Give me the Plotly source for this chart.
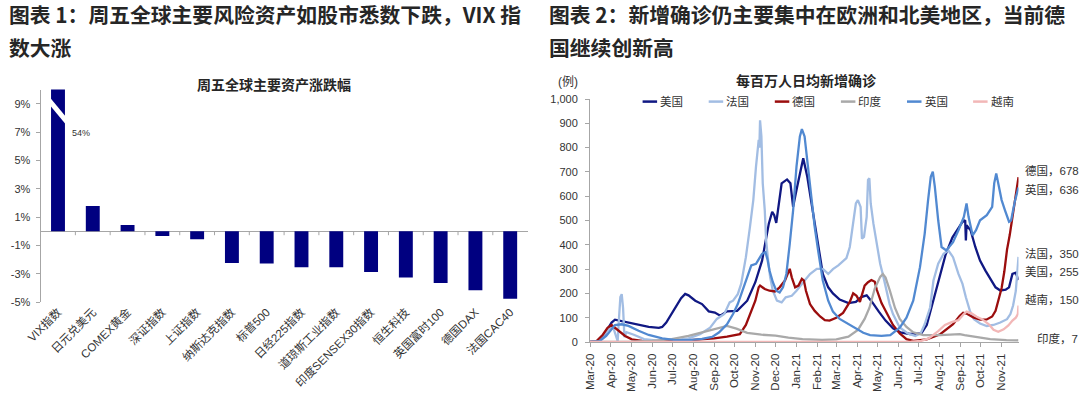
import plotly.graph_objects as go

W, H = 1080, 396

# ---------------- Left chart data ----------------
assets = ["VIX指数", "日元兑美元", "COMEX黄金", "深证指数", "上证指数", "纳斯达克指数", "标普500",
          "日经225指数", "道琼斯工业指数", "印度SENSEX30指数", "恒生科技", "英国富时100", "德国DAX", "法国CAC40"]
changes = [54.0, 1.78, 0.45, -0.33, -0.56, -2.23, -2.27, -2.53, -2.53, -2.87, -3.26, -3.64, -4.15, -4.75]
pct_ticks = [-5, -3, -1, 1, 3, 5, 7, 9]
pct_range = [-5, 10]

# ---------------- Right chart data (per-million daily new cases) ----------------
us = [("2020-03-01", 0), ("2020-03-12", 2), ("2020-03-20", 20), ("2020-03-27", 55), ("2020-04-02", 80),
      ("2020-04-07", 92), ("2020-04-14", 88), ("2020-04-22", 84), ("2020-05-01", 78), ("2020-05-12", 70),
      ("2020-05-27", 62), ("2020-06-11", 58), ("2020-06-16", 62), ("2020-06-22", 80), ("2020-06-28", 108),
      ("2020-07-08", 156), ("2020-07-14", 180), ("2020-07-20", 198), ("2020-07-25", 192), ("2020-08-04", 170),
      ("2020-08-14", 156), ("2020-08-24", 126), ("2020-09-02", 121), ("2020-09-10", 108), ("2020-09-20", 126),
      ("2020-10-05", 128), ("2020-10-20", 170), ("2020-11-01", 246), ("2020-11-11", 335), ("2020-11-21", 487),
      ("2020-11-26", 536), ("2020-11-29", 522), ("2020-12-02", 490), ("2020-12-10", 653), ("2020-12-18", 669),
      ("2020-12-23", 653), ("2020-12-27", 556), ("2021-01-02", 639), ("2021-01-11", 756), ("2021-01-17", 680),
      ("2021-01-26", 529), ("2021-02-02", 404), ("2021-02-09", 280), ("2021-02-17", 225), ("2021-02-24", 200),
      ("2021-03-06", 175), ("2021-03-19", 160), ("2021-03-30", 165), ("2021-04-07", 185), ("2021-04-15", 192),
      ("2021-04-23", 165), ("2021-05-03", 125), ("2021-05-13", 88), ("2021-05-24", 56), ("2021-06-04", 40),
      ("2021-06-18", 33), ("2021-06-28", 33), ("2021-07-05", 35), ("2021-07-13", 70), ("2021-07-26", 205),
      ("2021-08-10", 360), ("2021-08-20", 430), ("2021-08-28", 466), ("2021-09-04", 494), ("2021-09-08", 501),
      ("2021-09-09", 418), ("2021-09-10", 480), ("2021-09-16", 460), ("2021-09-23", 391), ("2021-09-30", 335),
      ("2021-10-08", 294), ("2021-10-15", 259), ("2021-10-23", 225), ("2021-10-30", 212), ("2021-11-07", 215),
      ("2021-11-12", 225), ("2021-11-17", 280), ("2021-11-22", 285), ("2021-11-24", 270), ("2021-11-26", 255)]

france = [("2020-03-01", 0), ("2020-03-12", 4), ("2020-03-22", 30), ("2020-03-31", 60), ("2020-04-05", 55),
          ("2020-04-09", 20), ("2020-04-11", 3), ("2020-04-13", 100), ("2020-04-15", 185), ("2020-04-17", 197),
          ("2020-04-19", 140), ("2020-04-21", 20), ("2020-04-24", 40), ("2020-05-05", 30), ("2020-05-20", 12),
          ("2020-06-10", 6), ("2020-07-05", 8), ("2020-07-25", 15), ("2020-08-11", 32), ("2020-08-26", 59),
          ("2020-09-05", 95), ("2020-09-16", 115), ("2020-09-24", 163), ("2020-09-29", 170), ("2020-10-06", 197),
          ("2020-10-11", 239), ("2020-10-18", 349), ("2020-10-24", 473), ("2020-10-29", 584), ("2020-11-02", 722),
          ("2020-11-04", 791), ("2020-11-06", 832), ("2020-11-07", 800), ("2020-11-08", 912), ("2020-11-10", 846),
          ("2020-11-12", 653), ("2020-11-15", 542), ("2020-11-17", 418), ("2020-11-20", 335), ("2020-11-23", 266),
          ("2020-11-27", 211), ("2020-12-03", 170), ("2020-12-10", 163), ("2020-12-16", 184), ("2020-12-25", 190),
          ("2021-01-01", 211), ("2021-01-11", 246), ("2021-01-21", 280), ("2021-01-31", 301), ("2021-02-09", 301),
          ("2021-02-17", 280), ("2021-02-24", 300), ("2021-03-04", 315), ("2021-03-16", 345), ("2021-03-21", 391),
          ("2021-03-26", 501), ("2021-03-30", 570), ("2021-04-02", 584), ("2021-04-06", 556), ("2021-04-08", 425),
          ("2021-04-11", 432), ("2021-04-15", 515), ("2021-04-17", 667), ("2021-04-19", 674), ("2021-04-21", 570),
          ("2021-04-25", 487), ("2021-04-30", 404), ("2021-05-05", 322), ("2021-05-10", 266), ("2021-05-15", 211),
          ("2021-05-19", 156), ("2021-05-24", 115), ("2021-05-29", 87), ("2021-06-03", 60), ("2021-06-15", 35),
          ("2021-06-26", 25), ("2021-07-04", 35), ("2021-07-10", 73), ("2021-07-18", 142), ("2021-07-23", 253),
          ("2021-07-30", 322), ("2021-08-07", 363), ("2021-08-14", 377), ("2021-08-21", 349), ("2021-08-29", 280),
          ("2021-09-04", 239), ("2021-09-09", 184), ("2021-09-15", 128), ("2021-09-21", 94), ("2021-09-30", 76),
          ("2021-10-10", 66), ("2021-10-20", 70), ("2021-10-30", 80), ("2021-11-09", 94), ("2021-11-14", 115),
          ("2021-11-18", 150), ("2021-11-22", 210), ("2021-11-24", 300), ("2021-11-26", 350)]

germany = [("2020-03-01", 0), ("2020-03-10", 2), ("2020-03-20", 30), ("2020-03-27", 58), ("2020-04-02", 70),
           ("2020-04-12", 46), ("2020-04-22", 25), ("2020-05-02", 11), ("2020-05-17", 5), ("2020-06-15", 4),
           ("2020-07-15", 5), ("2020-08-11", 11), ("2020-09-01", 15), ("2020-09-20", 22), ("2020-10-09", 32),
           ("2020-10-18", 70), ("2020-10-24", 115), ("2020-11-01", 170), ("2020-11-06", 225), ("2020-11-08", 232),
           ("2020-11-15", 218), ("2020-11-22", 211), ("2020-11-30", 208), ("2020-12-07", 225), ("2020-12-15", 253),
           ("2020-12-20", 287), ("2020-12-22", 301), ("2020-12-25", 266), ("2020-12-30", 225), ("2021-01-04", 232),
           ("2021-01-09", 260), ("2021-01-12", 253), ("2021-01-15", 211), ("2021-01-21", 156), ("2021-01-28", 128),
           ("2021-02-05", 105), ("2021-02-12", 90), ("2021-02-19", 88), ("2021-03-01", 100), ("2021-03-11", 120),
           ("2021-03-21", 165), ("2021-03-26", 200), ("2021-03-31", 190), ("2021-04-05", 165), ("2021-04-12", 232),
           ("2021-04-17", 246), ("2021-04-22", 255), ("2021-04-27", 248), ("2021-04-30", 215), ("2021-05-07", 160),
           ("2021-05-15", 120), ("2021-05-24", 70), ("2021-06-03", 35), ("2021-06-13", 12), ("2021-06-23", 5),
           ("2021-07-13", 11), ("2021-08-02", 32), ("2021-08-21", 73), ("2021-08-31", 108), ("2021-09-05", 120),
           ("2021-09-10", 117), ("2021-09-20", 101), ("2021-09-30", 92), ("2021-10-10", 93), ("2021-10-18", 105),
           ("2021-10-23", 128), ("2021-10-28", 180), ("2021-11-01", 222), ("2021-11-05", 290), ("2021-11-09", 380),
           ("2021-11-13", 440), ("2021-11-17", 510), ("2021-11-21", 590), ("2021-11-24", 640), ("2021-11-26", 678)]

india = [("2020-03-01", 0), ("2020-05-01", 1), ("2020-06-01", 5), ("2020-06-30", 12), ("2020-07-25", 25),
         ("2020-08-14", 40), ("2020-08-31", 52), ("2020-09-14", 63), ("2020-09-20", 66), ("2020-10-04", 55),
         ("2020-10-20", 38), ("2020-11-10", 30), ("2020-12-01", 26), ("2020-12-20", 18), ("2021-01-10", 12),
         ("2021-02-08", 9), ("2021-03-01", 11), ("2021-03-19", 22), ("2021-04-02", 50), ("2021-04-12", 95),
         ("2021-04-19", 140), ("2021-04-27", 220), ("2021-05-05", 268), ("2021-05-09", 280), ("2021-05-13", 265),
         ("2021-05-19", 215), ("2021-05-27", 140), ("2021-06-03", 95), ("2021-06-13", 62), ("2021-06-23", 40),
         ("2021-07-08", 28), ("2021-08-02", 28), ("2021-08-31", 32), ("2021-09-07", 28), ("2021-09-20", 22),
         ("2021-10-15", 12), ("2021-11-08", 8), ("2021-11-26", 7)]

uk = [("2020-03-01", 0), ("2020-03-15", 3), ("2020-03-25", 25), ("2020-04-02", 55), ("2020-04-07", 70),
      ("2020-04-17", 73), ("2020-04-27", 66), ("2020-05-12", 46), ("2020-05-27", 29), ("2020-06-16", 15),
      ("2020-07-06", 8), ("2020-07-25", 8), ("2020-08-14", 13), ("2020-08-29", 21), ("2020-09-08", 39),
      ("2020-09-20", 73), ("2020-09-29", 115), ("2020-10-06", 156), ("2020-10-13", 211), ("2020-10-21", 280),
      ("2020-10-26", 315), ("2020-11-02", 322), ("2020-11-11", 363), ("2020-11-16", 370), ("2020-11-19", 340),
      ("2020-11-22", 294), ("2020-11-27", 246), ("2020-12-02", 211), ("2020-12-07", 204), ("2020-12-12", 225),
      ("2020-12-17", 280), ("2020-12-22", 404), ("2020-12-27", 542), ("2021-01-01", 722), ("2021-01-06", 846),
      ("2021-01-09", 876), ("2021-01-13", 846), ("2021-01-18", 722), ("2021-01-23", 584), ("2021-01-28", 473),
      ("2021-02-02", 377), ("2021-02-09", 253), ("2021-02-17", 170), ("2021-02-24", 125), ("2021-03-06", 95),
      ("2021-03-19", 75), ("2021-03-30", 55), ("2021-04-10", 38), ("2021-04-20", 28), ("2021-05-07", 25),
      ("2021-05-20", 28), ("2021-06-03", 59), ("2021-06-13", 100), ("2021-06-23", 170), ("2021-07-03", 308),
      ("2021-07-10", 446), ("2021-07-15", 584), ("2021-07-19", 680), ("2021-07-22", 701), ("2021-07-25", 639),
      ("2021-07-30", 501), ("2021-08-04", 391), ("2021-08-11", 377), ("2021-08-21", 411), ("2021-08-29", 460),
      ("2021-09-06", 515), ("2021-09-10", 570), ("2021-09-13", 515), ("2021-09-19", 439), ("2021-09-24", 460),
      ("2021-09-30", 501), ("2021-10-10", 522), ("2021-10-18", 556), ("2021-10-21", 653), ("2021-10-24", 694),
      ("2021-10-27", 653), ("2021-11-01", 584), ("2021-11-06", 542), ("2021-11-12", 495), ("2021-11-15", 500),
      ("2021-11-21", 584), ("2021-11-26", 636)]

vietnam = [("2020-03-01", 0), ("2021-06-20", 1), ("2021-07-05", 5), ("2021-07-16", 15), ("2021-07-30", 45),
           ("2021-08-09", 70), ("2021-08-19", 82), ("2021-08-29", 90), ("2021-09-06", 115), ("2021-09-10", 125),
           ("2021-09-18", 117), ("2021-09-25", 104), ("2021-10-03", 94), ("2021-10-13", 73), ("2021-10-20", 50),
           ("2021-10-27", 42), ("2021-11-04", 52), ("2021-11-11", 68), ("2021-11-17", 88), ("2021-11-22", 100),
           ("2021-11-25", 115), ("2021-11-26", 150)]

series_names = ["美国", "法国", "德国", "印度", "英国", "越南"]
series_data = [us, france, germany, india, uk, vietnam]
series_colors = ["#101883", "#A2BDE3", "#9B0D0D", "#A9A9A9", "#5189D1", "#F2B7B7"]
end_label_pos_px = [(1023.3, 271.7), (1023.3, 253.3), (1023.3, 170), (1035, 338.3), (1023.3, 189), (1023.3, 299)]

date_range = ["2020-03-01", "2021-11-26"]
case_ticks = list(range(0, 1001, 100))

# ---------------- helpers ----------------
def px(x):
    return x / W

def py(y):
    return 1 - y / H

TXT = "#333333"
AX = "#A6A6A6"
FONT = "Liberation Sans, Noto Sans CJK SC, sans-serif"
CJK = "Noto Sans CJK SC, sans-serif"

fig = go.Figure()

# Left chart bars
idx = list(range(len(assets)))
fig.add_trace(go.Bar(x=idx, y=changes, width=0.4, marker=dict(color="#000080", line_width=0),
                     xaxis="x", yaxis="y", showlegend=False, hoverinfo="skip"))

# Right chart lines
for name, data, color in zip(series_names, series_data, series_colors):
    fig.add_trace(go.Scatter(x=[d for d, v in data], y=[v for d, v in data], mode="lines", name=name,
                             line=dict(color=color, width=2.3), xaxis="x2", yaxis="y2", showlegend=False))

shapes = []
annotations = []

# Zero-line tick marks between categories (left chart)
for i in range(len(assets) - 1):
    shapes.append(dict(type="line", xref="x", yref="y", x0=i + 0.5, x1=i + 0.5, y0=0, y1=-0.27,
                       line=dict(color=AX, width=1)))

# Axis break on the VIX bar (white slanted band)
bw = 0.25
yc = 8.47
slope = 0.74
th = 0.55
shapes.append(dict(type="path", xref="x", yref="y", layer="above",
                   path=f"M {-bw},{yc + slope + th/2} L {bw},{yc - slope + th/2} L {bw},{yc - slope - th/2} L {-bw},{yc + slope - th/2} Z",
                   fillcolor="white", line=dict(width=0)))

# VIX value label
annotations.append(dict(xref="x", yref="y", x=0.66, y=6.9, text=f"{changes[0]:.0f}%", showarrow=False,
                        font=dict(size=9, color=TXT, family=FONT), xanchor="center", yanchor="middle"))

# Headings
heading_font = dict(size=20.8, color="#262626", family=CJK, weight="bold")
for x0, lines in [(6.9, ["图表 1：周五全球主要风险资产如股市悉数下跌，VIX 指", "数大涨"]),
                  (546.9, ["图表 2：新增确诊仍主要集中在欧洲和北美地区，当前德", "国继续创新高"])]:
    for yy, t in zip([14, 46.5], lines):
        annotations.append(dict(xref="paper", yref="paper", x=px(x0), y=py(yy), text=t, showarrow=False,
                                xanchor="left", yanchor="middle", font=heading_font))

# Chart titles
annotations.append(dict(xref="paper", yref="paper", x=px(273.8), y=py(83.7), text="周五全球主要资产涨跌幅",
                        showarrow=False, xanchor="center", yanchor="middle",
                        font=dict(size=14, color="#262626", family=CJK, weight="bold")))
annotations.append(dict(xref="paper", yref="paper", x=px(806.9), y=py(80.2), text="每百万人日均新增确诊",
                        showarrow=False, xanchor="center", yanchor="middle",
                        font=dict(size=14, color="#262626", family=CJK, weight="bold")))
annotations.append(dict(xref="paper", yref="paper", x=px(567.7), y=py(82), text="(例)",
                        showarrow=False, xanchor="center", yanchor="middle",
                        font=dict(size=12, color=TXT, family=FONT)))

# Custom legend
lx0, lstep, ly = 642.6, 66.1, 101.6
for i, (name, color) in enumerate(zip(series_names, series_colors)):
    x0 = lx0 + i * lstep
    shapes.append(dict(type="line", xref="paper", yref="paper", x0=px(x0), x1=px(x0 + 14.5),
                       y0=py(ly), y1=py(ly), line=dict(color=color, width=2.5)))
    annotations.append(dict(xref="paper", yref="paper", x=px(x0 + 15.5), y=py(ly), text=name, showarrow=False,
                            xanchor="left", yanchor="middle", font=dict(size=11.5, color=TXT, family=FONT)))

# End labels
for name, data, (xp, ypx) in zip(series_names, series_data, end_label_pos_px):
    annotations.append(dict(xref="paper", yref="paper", x=px(xp), y=py(ypx),
                            text=f"{name}，{data[-1][1]}", showarrow=False, xanchor="left", yanchor="middle",
                            font=dict(size=11.5, color=TXT, family=FONT)))

fig.update_layout(
    width=W, height=H,
    margin=dict(l=0, r=0, t=0, b=0, autoexpand=False),
    paper_bgcolor="white", plot_bgcolor="white",
    showlegend=False,
    bargap=0.6,
    xaxis=dict(domain=[px(40.6), px(527.6)], range=[-0.5, len(assets) - 0.5], tickvals=idx, ticktext=assets,
               tickangle=-45, showline=False, showgrid=False, zeroline=False, ticks="", automargin=False,
               tickfont=dict(size=11.5, color=TXT, family=FONT), anchor="y", fixedrange=True),
    yaxis=dict(domain=[py(302.3), py(89.5)], range=pct_range, tickvals=pct_ticks,
               ticktext=[f"{v}%" for v in pct_ticks], showline=True, linecolor=AX, linewidth=1,
               ticks="outside", ticklen=4, tickcolor=AX, showgrid=False, zeroline=True, automargin=False,
               zerolinecolor=AX, zerolinewidth=1, ticklabelstandoff=3,
               tickfont=dict(size=11, color=TXT, family=FONT), anchor="x"),
    xaxis2=dict(domain=[px(590), px(1018.5)], type="date", range=date_range, tick0="2020-03-01", dtick="M1",
                tickformat="%b-%y", tickangle=-90, ticks="outside", ticklen=4, tickcolor=AX, automargin=False,
                showline=True, linecolor=AX, linewidth=1, showgrid=False, zeroline=False,
                tickfont=dict(size=11.5, color=TXT, family=FONT), anchor="y2", ticklabelstandoff=2),
    yaxis2=dict(domain=[py(342), py(99)], range=[0, 1000], tickvals=case_ticks, tickformat=",",
                ticks="outside", ticklen=4, tickcolor=AX, showline=True, linecolor=AX, linewidth=1,
                showgrid=False, zeroline=False, ticklabelstandoff=5, automargin=False,
                tickfont=dict(size=11, color=TXT, family=FONT), anchor="x2"),
    shapes=shapes,
    annotations=annotations,
)

# Remove the browser's default 8px page margin so the figure sits at the window's top-left corner
fig.write_html("out.html", config={"displayModeBar": False, "staticPlot": True},
               post_script="document.body.style.margin='0';document.body.style.overflow='hidden';")
